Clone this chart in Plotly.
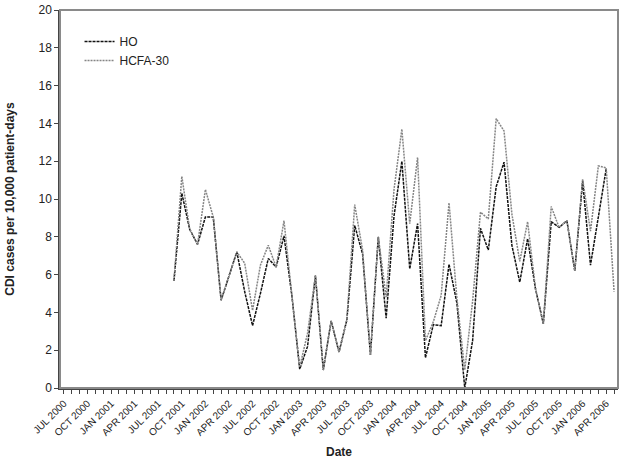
import pandas as pd
import plotly.graph_objs as go

# monthly categories JUL 2000 .. MAY 2006
months = [d.strftime("%b %Y").upper() for d in pd.date_range("2000-07-01", periods=71, freq="MS")]

# series start in SEP 2001
hcfa_30 = [5.67, 11.2, 8.4, 7.6, 10.5, 9.05, 4.64, 5.95, 7.2, 6.6,
           4.1, 6.5, 7.55, 6.4, 8.85, 4.9, 1.1, 2.9, 5.95, 0.95,
           3.55, 1.9, 3.6, 9.7, 7.3, 1.75, 8.0, 4.8, 10.5, 13.7,
           8.7, 12.2, 2.5, 3.5, 4.9, 9.8, 4.75, 0.95, 4.6, 9.3,
           8.95, 14.25, 13.6, 9.2, 6.7, 8.8, 5.25, 3.4, 9.6, 8.5,
           8.85, 6.2, 11.05, 8.3, 11.75, 11.65, 5.1]
ho = [5.67, 10.3, 8.4, 7.6, 9.05, 9.05, 4.64, 5.95, 7.2, 5.1,
      3.3, 5.0, 6.85, 6.4, 8.05, 4.9, 1.0, 2.2, 5.95, 0.95,
      3.55, 1.9, 3.6, 8.6, 7.1, 1.75, 8.0, 3.7, 9.1, 12.0,
      6.3, 8.7, 1.6, 3.35, 3.3, 6.55, 4.5, 0.0, 2.5, 8.45,
      7.3, 10.65, 11.95, 7.55, 5.6, 7.9, 5.25, 3.4, 8.8, 8.5,
      8.85, 6.2, 10.95, 6.5, 9.0, 11.6]

start = months.index("SEP 2001")
tick_text = [m if i % 3 == 0 else "" for i, m in enumerate(months)]

fig = go.Figure()
fig.add_trace(go.Scatter(
    x=months[start:start + len(ho)], y=ho, name="HO", mode="lines",
    line=dict(color="#111111", width=1.5, dash="3px,1px"),
))
fig.add_trace(go.Scatter(
    x=months[start:start + len(hcfa_30)], y=hcfa_30, name="HCFA-30", mode="lines",
    line=dict(color="#858585", width=1.5, dash="2px,1px"),
))

fig.update_layout(
    width=624, height=459,
    margin=dict(l=60, r=6, t=10, b=71),
    paper_bgcolor="white", plot_bgcolor="white",
    font=dict(family="Arial, Liberation Sans, sans-serif", size=12, color="#222"),
    showlegend=True,
    legend=dict(x=0.035, y=0.955, xanchor="left", yanchor="top",
                bgcolor="rgba(0,0,0,0)", font=dict(size=12)),
    shapes=[
        dict(type="rect", xref="paper", yref="paper", x0=0, x1=1, y0=0, y1=1,
             line=dict(color="#8a8a8a", width=2), layer="above"),
    ],
)
fig.update_xaxes(
    type="category", categoryorder="array", categoryarray=months,
    range=[-0.5, len(months) - 0.5],
    tickmode="array", tickvals=months, ticktext=tick_text,
    tickangle=-45, tickfont=dict(size=10),
    ticks="outside", ticklen=4, tickwidth=1, tickcolor="#444",
    showline=True, linecolor="#444", linewidth=1.5, showgrid=False, zeroline=False,
    automargin=False,
    title=dict(text="<b>Date</b>", font=dict(size=12), standoff=16),
)
fig.update_yaxes(
    range=[0, 20], dtick=2, tickfont=dict(size=12),
    ticks="outside", ticklen=4, tickcolor="#444",
    showline=True, linecolor="#444", linewidth=1.5, showgrid=False, zeroline=False,
    automargin=False,
    title=dict(text="<b>CDI cases per 10,000 patient-days</b>", font=dict(size=12), standoff=21),
)

fig.write_html("out.html", config={"displayModeBar": False},
               post_script="document.body.style.margin='0';")
